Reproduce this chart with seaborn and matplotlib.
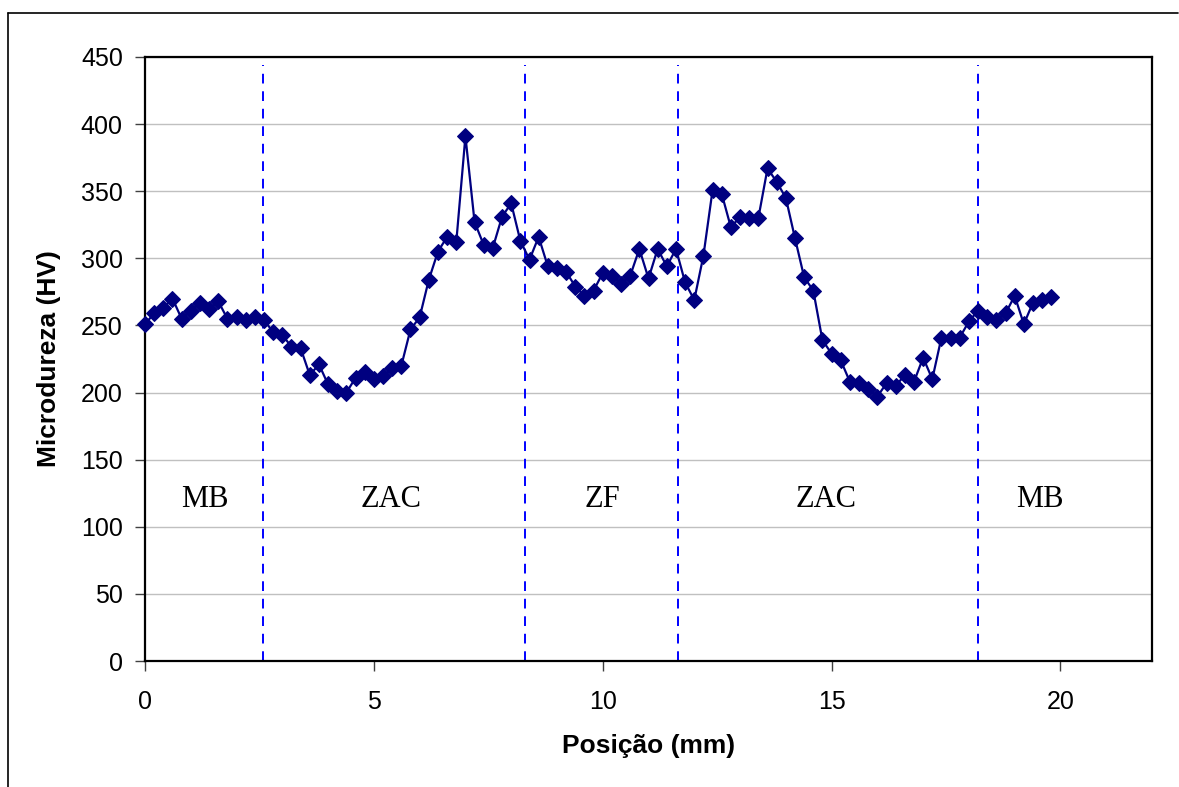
import numpy as np
import pandas as pd
import matplotlib
matplotlib.use("Agg")
import matplotlib.pyplot as plt
from matplotlib.lines import Line2D
import seaborn as sns

# =============================================================
# Podaci - mikrotvrdoca po poziciji (ocitano sa grafika)
# =============================================================

posicao = [round(0.2 * i, 1) for i in range(100)]

microdureza = [
    251, 259, 263, 270, 255, 261, 267, 262, 268, 255,
    256, 254, 256, 254, 245, 243, 234, 233, 213, 221,
    206, 201, 200, 211, 215, 210, 212, 218, 220, 247,
    256, 284, 305, 316, 312, 391, 327, 310, 308, 331,
    341, 313, 299, 316, 294, 293, 290, 279, 272, 276,
    289, 287, 281, 287, 307, 285, 307, 294, 307, 282,
    269, 302, 351, 348, 323, 331, 330, 330, 367, 357,
    345, 315, 286, 276, 239, 229, 224, 208, 207, 203,
    197, 207, 205, 213, 208, 226, 210, 241, 241, 241,
    253, 261, 256, 254, 259, 272, 251, 267, 269, 271,
]

limites = [2.58, 8.3, 11.65, 18.2]

regioes = ["MB", "ZAC", "ZF", "ZAC", "MB"]
regioes_x = [1.31, 5.37, 10.0, 14.87, 19.56]

df = pd.DataFrame({"Posicao": posicao, "Microdureza": microdureza})

# =============================================================
# Grafik
# =============================================================

sns.set_style("white")
plt.rcParams["font.family"] = ["Liberation Sans", "DejaVu Sans"]
plt.rcParams["text.color"] = "black"
plt.rcParams["axes.labelcolor"] = "black"
plt.rcParams["xtick.color"] = "black"
plt.rcParams["ytick.color"] = "black"

fig = plt.figure(figsize=(11.79, 7.87), dpi=100)
ax = fig.add_axes([0.1230, 0.1601, 0.9771 - 0.1230, 0.9276 - 0.1601])

ax.yaxis.grid(True, color="#c0c0c0", linewidth=1.0)
ax.set_axisbelow(True)

ax.vlines(limites, 0, 444, colors="#0000ff", linestyles=(0, (5, 4)),
          linewidth=1.4, zorder=2)

sns.lineplot(data=df, x="Posicao", y="Microdureza", ax=ax,
             color="#000080", linewidth=1.6, marker="D", markersize=8,
             markeredgecolor="#000080", markerfacecolor="#000080",
             zorder=3, clip_on=False)

for nome, xr in zip(regioes, regioes_x):
    ax.text(xr, 120, nome, ha="center", va="center", fontsize=22,
            family=["Liberation Serif", "DejaVu Serif"])

ax.set_xlim(0, 22)
ax.set_ylim(0, 450)
ax.set_xticks([0, 5, 10, 15, 20])
ax.set_yticks(range(0, 451, 50))

ax.tick_params(axis="both", direction="out", length=7, width=1,
               color="#404040", labelsize=18, labelcolor="black", pad=9)
ax.tick_params(axis="x", pad=14)
ax.tick_params(left=True, bottom=True)

for s in ax.spines.values():
    s.set_color("black")
    s.set_linewidth(1.6)

ax.set_xlabel("Posição (mm)", fontsize=19, fontweight="bold", labelpad=14,
              color="black")
ax.set_ylabel("Microdureza (HV)", fontsize=19, fontweight="bold", labelpad=14,
              color="black")

# okvir oko cele slike
fig.add_artist(Line2D([8 / 1179, 8 / 1179], [0, 1 - 13 / 787],
                      transform=fig.transFigure, color="black", linewidth=1.2))
fig.add_artist(Line2D([8 / 1179, 1178 / 1179], [1 - 13 / 787, 1 - 13 / 787],
                      transform=fig.transFigure, color="black", linewidth=1.2))

fig.savefig("out.png", dpi=100)
plt.close()
